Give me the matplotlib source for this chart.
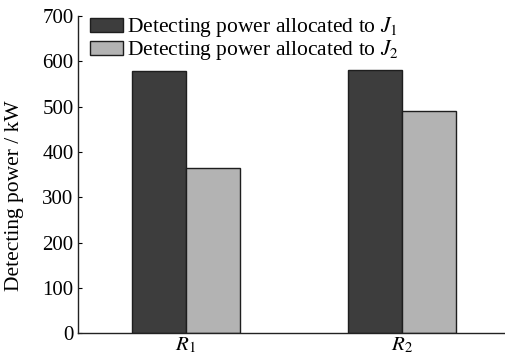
import matplotlib
matplotlib.use("Agg")
import matplotlib.pyplot as plt
import numpy as np

# data
radars = ["$R_1$", "$R_2$"]
power_j1 = [578, 581]
power_j2 = [364, 490]
series_labels = [
    "Detecting power allocated to $J_1$",
    "Detecting power allocated to $J_2$",
]
y_ticks = [0, 100, 200, 300, 400, 500, 600, 700]

plt.rcParams["font.family"] = ["Liberation Serif", "DejaVu Serif"]
plt.rcParams["mathtext.fontset"] = "stix"

fig = plt.figure(figsize=(5.06, 3.62), dpi=100)
ax = fig.add_axes([0.1536, 0.0793, 0.8464, 0.8765])

x = np.arange(len(radars))
width = 0.25
ax.bar(x - width / 2, power_j1, width, color="#3d3d3d", edgecolor="#1e1e1e",
       linewidth=1.0, label=series_labels[0])
ax.bar(x + width / 2, power_j2, width, color="#b3b3b3", edgecolor="#1e1e1e",
       linewidth=1.0, label=series_labels[1])

ax.set_xlim(-0.5, 1.48)
ax.set_ylim(0, 700)
ax.set_yticks(y_ticks)
ax.set_xticks(x)
ax.set_xticklabels(radars, fontsize=15)
ax.tick_params(axis="y", direction="in", length=3, labelsize=15, pad=3)
ax.tick_params(axis="x", length=0, pad=2)
ax.spines["top"].set_visible(False)
ax.spines["right"].set_visible(False)
for s in ("left", "bottom"):
    ax.spines[s].set_linewidth(1.0)
    ax.spines[s].set_color("#222222")

ax.set_ylabel("Detecting power / kW", fontsize=15.5)
ax.yaxis.set_label_coords(-0.125, 0.433)

ax.legend(loc="upper left", bbox_to_anchor=(-0.006, 1.05), frameon=False,
          fontsize=15.5, handlelength=1.5, handleheight=0.62,
          handletextpad=0.2, labelspacing=-0.04, borderaxespad=0.3)

fig.savefig("out.png", dpi=100)
